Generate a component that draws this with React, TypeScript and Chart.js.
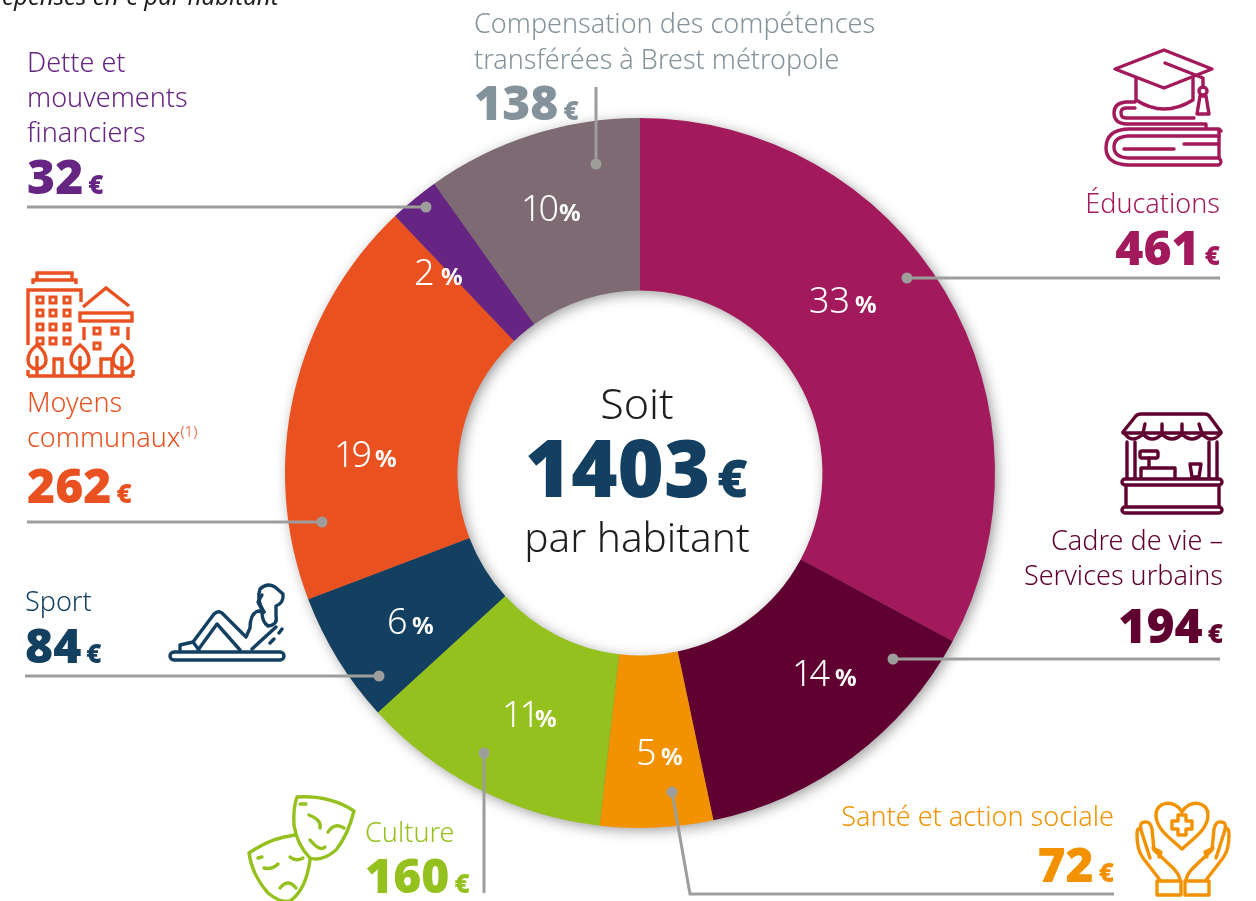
import React, { useEffect, useRef } from "react";
import { Chart, registerables } from "chart.js";

Chart.register(...registerables);

const categories = ["Éducations", "Cadre de vie – Services urbains", "Santé et action sociale", "Culture", "Sport", "Moyens communaux", "Dette et mouvements financiers", "Compensation des compétences transférées à Brest métropole"];
const amounts = [461, 194, 72, 160, 84, 262, 32, 138];
const percents = [33, 14, 5, 11, 6, 19, 2, 10];
const sliceColors = ["#a21a5b", "#5f0030", "#f39200", "#95c11f", "#134061", "#ea5120", "#662483", "#7d6a72"];
const textColors = ["#a21a5b", "#5f0030", "#f39200", "#95c11f", "#134061", "#ea5120", "#662483", "#84939b"];
const total = 1403;

const FONT = '"Noto Sans", sans-serif';
const GREY = "#9d9d9c";

// layout only
const percentAt = [[809, 313], [792, 686], [636, 765], [502, 727], [387, 634], [334, 467], [414, 285], [521, 221]];
const percentSignX = [855, 835, 661, 535, 412, 375, 441, 559];
const leaders = [
  [[907, 278], [1220, 278]],
  [[893, 659], [1220, 659]],
  [[672, 792], [690, 894], [1114, 894]],
  [[484, 753], [484, 893]],
  [[379, 676], [25, 676]],
  [[322, 522], [27, 522]],
  [[426, 207], [27, 207]],
  [[596, 164], [596, 87]],
];
type Block = { lines: string[]; x: number; ys: number[]; vy: number; anchor: "start" | "end" };
const blocks: Block[] = [
  { lines: ["Éducations"], x: 1220, ys: [213], vy: 265, anchor: "end" },
  { lines: ["Cadre de vie –", "Services urbains"], x: 1223, ys: [550, 585], vy: 643, anchor: "end" },
  { lines: ["Santé et action sociale"], x: 1114, ys: [826], vy: 882, anchor: "end" },
  { lines: ["Culture"], x: 365, ys: [842], vy: 893, anchor: "start" },
  { lines: ["Sport"], x: 25, ys: [611], vy: 663, anchor: "start" },
  { lines: ["Moyens", "communaux"], x: 27, ys: [412, 447], vy: 503, anchor: "start" },
  { lines: ["Dette et", "mouvements", "financiers"], x: 27, ys: [72, 107, 142], vy: 194, anchor: "start" },
  { lines: ["Compensation des compétences", "transférées à Brest métropole"], x: 474, ys: [33, 69], vy: 120, anchor: "start" },
];

const ringShadow = {
  id: "ringShadow",
  beforeDatasetsDraw(chart: any) {
    const arc = chart.getDatasetMeta(0).data[0];
    if (!arc) return;
    const { x, y, outerRadius, innerRadius } = arc;
    const c = chart.ctx;
    c.save();
    c.shadowColor = "rgba(0,0,0,0.42)";
    c.shadowBlur = 14;
    c.shadowOffsetX = 3;
    c.shadowOffsetY = 3;
    c.fillStyle = "#777";
    c.beginPath();
    c.arc(x, y, outerRadius - 1, 0, Math.PI * 2);
    c.arc(x, y, innerRadius + 1, 0, Math.PI * 2, true);
    c.closePath();
    c.fill();
    c.restore();
  },
};

const leaderLines = {
  id: "leaderLines",
  afterDatasetsDraw(chart: any) {
    const c = chart.ctx;
    c.save();
    c.strokeStyle = GREY;
    c.fillStyle = GREY;
    c.lineWidth = 3;
    leaders.forEach((pts) => {
      c.beginPath();
      pts.forEach((p, i) => (i ? c.lineTo(p[0], p[1]) : c.moveTo(p[0], p[1])));
      c.stroke();
      c.beginPath();
      c.arc(pts[0][0], pts[0][1], 5.5, 0, Math.PI * 2);
      c.fill();
    });
    c.restore();
  },
};

function Icons() {
  const s = { fill: "none", strokeWidth: 3.4, strokeLinecap: "round" as const, strokeLinejoin: "round" as const };
  const windows: number[][] = [];
  [297, 310, 324, 338].forEach((y) => [37, 50, 64].forEach((x) => windows.push([x, y])));
  return (
    <g>
      {/* graduation */}
      <g {...s} stroke={textColors[0]}>
        <path d="M1115 69 L1164 50 L1212 69 L1164 88 Z" />
        <path d="M1136 78 V100 Q1164 118 1193 100 V78" />
        <path d="M1165 63 L1203 78 V87" />
        <circle cx="1203" cy="91" r="4" />
        <path d="M1200 96 H1206 L1209 114 H1197 Z" />
        <path d="M1135 102 H1126 Q1114 103 1114 113 Q1114 123 1126 124 H1206 V128" />
        <path d="M1194 118 H1126 Q1121 118 1121 113 Q1121 108 1126 108 H1135" />
        <path d="M1219 129 H1128 Q1106 130 1106 148 Q1106 164 1128 165 H1219 Q1223 162 1219 158 V129 Q1223 133 1219 129" />
        <path d="M1219 158 H1128 Q1114 157 1114 147 Q1114 137 1128 136 H1219" />
        <path d="M1124 149 H1174 M1184 144 H1218" />
      </g>
      {/* stall */}
      <g {...s} stroke={textColors[1]}>
        <path d="M1123 432 L1135 417 Q1137 414 1141 414 H1205 Q1208 414 1210 417 L1221 432" />
        <path d="M1123 433 H1221" />
        <path d="M1125 434 Q1132 444 1143 434 Q1152 444 1162 434 Q1172 444 1182 434 Q1192 444 1202 434 Q1212 444 1220 434" />
        <path d="M1145 424 L1143 433 M1162 424 V433 M1182 424 V433 M1199 424 L1202 433" />
        <path d="M1127 442 V478 M1135 442 V478 M1209 442 V478 M1217 442 V478" />
        <rect x="1122" y="479" width="100" height="6" rx="3" />
        <path d="M1126 486 V506 M1219 486 V506" />
        <rect x="1122" y="507" width="100" height="6" rx="3" />
        <rect x="1140" y="451" width="18" height="7" rx="2" />
        <path d="M1149 458 V467 M1141 477 V468 H1175 V477 M1190 464 H1201 L1199 477 H1192 Z" />
      </g>
      {/* hands */}
      <g {...s} stroke={textColors[2]}>
        <path d="M1182 849 C1170 838 1156 829 1156 815 C1156 801 1175 799 1182 812 C1189 799 1208 801 1208 815 C1208 829 1194 838 1182 849 Z" />
        <path d="M1178 815 H1186 V821 H1192 V829 H1186 V835 H1178 V829 H1172 V821 H1178 Z" />
        <rect x="1157" y="881" width="24" height="14" />
        <rect x="1185" y="881" width="24" height="14" />
        <path d="M1160 880 L1143 858 Q1137 850 1137 835 Q1137 826 1141 830 Q1139 822 1145 822 Q1150 821 1152 829 L1154 850 L1173 868 Q1180 875 1180 881" />
        <path d="M1141 830 L1150 858 M1153 848 L1161 852 L1159 857" />
        <path d="M1206 880 L1223 858 Q1229 850 1229 835 Q1229 826 1225 830 Q1227 822 1221 822 Q1216 821 1214 829 L1212 850 L1193 868 Q1186 875 1186 881" />
        <path d="M1225 830 L1216 858 M1213 848 L1205 852 L1207 857" />
      </g>
      {/* masks */}
      <g {...s} stroke={textColors[3]}>
        <path d="M297 797 Q330 795 354 811 Q348 835 336 850 Q322 862 310 858 Q297 845 294 825 Q293 808 297 797 Z" />
        <path d="M295 835 Q270 838 249 853 Q252 875 268 893 Q280 903 290 901 Q306 890 310 860" />
        <path d="M300 804 H306 M309 815 Q322 820 320 828 M328 832 Q335 822 344 828 M310 840 Q320 852 325 847" />
        <path d="M258 858 L262 857 M264 868 Q272 870 278 864 M290 857 Q296 862 303 858 M280 888 Q288 878 296 888" />
      </g>
      {/* sport */}
      <g {...s} stroke={textColors[4]}>
        <rect x="170" y="652" width="114" height="8" rx="4" />
        <path d="M180 650 V645 L193 642 L214 614 Q218 610 222 613 L246 637 L250 628 Q250 614 258 611 L264 612" />
        <path d="M198 650 L217 624 L240 650 M193 642 L199 650" />
        <path d="M252 649 L276 627 M270 643 L274 639 M279 633 L282 629" />
        <path d="M264 612 Q256 600 260 589 Q267 582 275 587 L283 594 Q284 603 276 606 L276 616 Q278 625 268 626 Q262 622 262 612" />
        <path d="M262 595 L258 602 L262 610" />
      </g>
      {/* buildings */}
      <g {...s} stroke={textColors[5]} strokeLinecap="butt" strokeLinejoin="miter">
        <path d="M37 280 V273 H72 V280 M33 284 V280 H76 V284" />
        <path d="M28 345 V290 H81 V302" />
        {windows.map(([x, y]) => (
          <rect key={`${x}-${y}`} x={x} y={y} width={6} height={6} strokeWidth={3} />
        ))}
        <path d="M83 307 L106 288 L129 306" />
        <rect x="80" y="313" width="52" height="8" />
        <path d="M84 327 V340 M128 327 V340" />
        <rect x="94" y="328" width="6" height="6" strokeWidth={3} />
        <rect x="112" y="328" width="6" height="6" strokeWidth={3} />
        <rect x="94" y="343" width="6" height="6" strokeWidth={3} />
        <path d="M28 376 H133 M54 376 V359 H62 V376 M101 376 V359 H112 V376 M28 376 V370 M133 376 V370" />
        <path d="M37 345 Q28 352 28 360 Q28 368 37 369 Q46 368 46 360 Q46 352 37 345 Z M37 356 V376" />
        <path d="M80 345 Q71 352 71 360 Q71 368 80 369 Q89 368 89 360 Q89 352 80 345 Z M80 356 V376" />
        <path d="M122 345 Q113 352 113 360 Q113 368 122 369 Q132 368 132 360 Q132 352 122 345 Z M122 356 V376" />
      </g>
    </g>
  );
}

function Labels() {
  return (
    <g fontFamily={FONT}>
      <text x={-14} y={5} fontSize={24} fontStyle="italic" fontWeight={400} fill="#1d1d1b">Dépenses en € par habitant</text>
      {blocks.map((b, i) => (
        <g key={categories[i]} fill={textColors[i]} textAnchor={b.anchor}>
          {b.lines.map((line, j) => (
            <text key={line} x={b.x} y={b.ys[j]} fontSize={27} fontWeight={300}>
              {line}
              {line === "communaux" ? <tspan fontSize={15} dy={-10}>(1)</tspan> : null}
            </text>
          ))}
          <text x={b.x} y={b.vy} fontWeight={900}>
            <tspan fontSize={48}>{amounts[i]}</tspan>
            <tspan fontSize={26} dx={5}>€</tspan>
          </text>
        </g>
      ))}
      {percents.map((p, i) => (
        <text key={i} x={percentAt[i][0]} y={percentAt[i][1]} fill="#fff">
          <tspan fontSize={36} fontWeight={300} letterSpacing={p < 20 && p > 9 ? -3 : 0}>{p}</tspan>
          <tspan fontSize={24} fontWeight={700} x={percentSignX[i]}>%</tspan>
        </text>
      ))}
      <text x={637} y={419} textAnchor="middle" fontSize={43} fontWeight={300} fill="#1d1d1b">Soit</text>
      <text x={525} y={497} fill={textColors[4]} fontWeight={900}>
        <tspan fontSize={79}>{total}</tspan>
        <tspan fontSize={52} dx={7}>€</tspan>
      </text>
      <text x={637} y={552} textAnchor="middle" fontSize={40.5} fontWeight={300} fill="#1d1d1b">par habitant</text>
    </g>
  );
}

export default function App() {
  const ref = useRef<HTMLCanvasElement>(null);
  useEffect(() => {
    const chart = new Chart(ref.current!, {
      type: "doughnut",
      data: {
        labels: categories,
        datasets: [{ data: amounts, backgroundColor: sliceColors, borderWidth: 0 }],
      },
      options: {
        responsive: false,
        animation: false,
        cutout: "51.4%",
        layout: { padding: { left: 285, right: 261, top: 118, bottom: 73 } },
        plugins: { legend: { display: false }, tooltip: { enabled: false } },
      },
      plugins: [ringShadow, leaderLines],
    });
    return () => chart.destroy();
  }, []);
  return (
    <div style={{ position: "absolute", left: 0, top: 0, width: 1256, height: 901, overflow: "hidden", background: "#fff" }}>
      <canvas ref={ref} width={1256} height={901} style={{ position: "absolute", left: 0, top: 0 }} />
      <svg width={1256} height={901} style={{ position: "absolute", left: 0, top: 0 }}>
        <Labels />
        <Icons />
      </svg>
    </div>
  );
}
